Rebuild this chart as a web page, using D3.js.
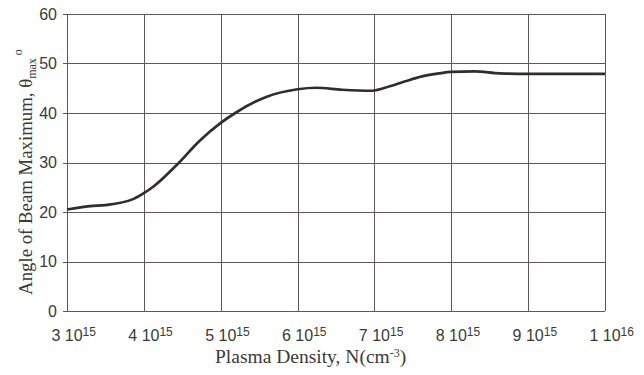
<meta charset="utf-8">
<style>
body { margin: 0; background: #fff; }
.grid line { stroke: #5e5866; stroke-width: 1px; shape-rendering: crispEdges; }
.tick-label { font-family: "Liberation Sans", Arial, sans-serif; font-size: 16px; fill: #3a3a3a; }
.axis-title { font-family: "Liberation Serif", "Times New Roman", serif; fill: #3a3a3a; }
.curve { fill: none; stroke: #2f2d33; stroke-width: 2.7px; stroke-linejoin: round; }
</style>
<body>
<script src="https://d3js.org/d3.v7.min.js"></script>
<script>
// plasma density (cm^-3) and beam max angle (deg)
var density = [3.0e15, 3.3e15, 3.5e15, 3.86e15, 4.0e15, 4.13e15, 4.44e15, 4.72e15,
               5.0e15, 5.2e15, 5.6e15, 6.0e15, 6.24e15, 6.58e15, 6.97e15, 7.2e15, 7.4e15,
               7.62e15, 7.84e15, 8.0e15, 8.3e15, 8.63e15, 9.0e15, 1.0e16];
var angle   = [20.5, 21.2, 21.4, 22.6, 23.8, 25.2, 29.7, 34.3,
               38.0, 40.1, 43.3, 44.8, 45.1, 44.7, 44.5, 45.4, 46.4,
               47.4, 48.0, 48.3, 48.4, 48.0, 47.9, 47.9];

var xTicks = [3e15, 4e15, 5e15, 6e15, 7e15, 8e15, 9e15, 1e16];
var xTickMant = ["3", "4", "5", "6", "7", "8", "9", "1"];
var xTickExp = ["15", "15", "15", "15", "15", "15", "15", "16"];
var yTicks = [0, 10, 20, 30, 40, 50, 60];

var W = 644, H = 375;
var margin = {top: 14, right: 39, bottom: 64, left: 67},
    width = W - margin.left - margin.right,
    height = H - margin.top - margin.bottom;

var svg = d3.select("body").append("svg")
    .attr("width", W)
    .attr("height", H);

var g = svg.append("g")
    .attr("transform", "translate(" + margin.left + "," + margin.top + ")");

var x = d3.scaleLinear().domain([3e15, 1e16]).range([0, width]);
var y = d3.scaleLinear().domain([0, 60]).range([height, 0]);

// grid
var grid = g.append("g").attr("class", "grid");
grid.selectAll(".hl").data(yTicks).enter().append("line")
    .attr("class", "hl")
    .attr("x1", -4).attr("x2", width)
    .attr("y1", function(d) { return Math.round(y(d)) + 0.5; })
    .attr("y2", function(d) { return Math.round(y(d)) + 0.5; });
grid.selectAll(".vl").data(xTicks).enter().append("line")
    .attr("class", "vl")
    .attr("y1", 0).attr("y2", height)
    .attr("x1", function(d) { return Math.round(x(d)) + 0.5; })
    .attr("x2", function(d) { return Math.round(x(d)) + 0.5; });

// y tick labels
g.selectAll(".ylab").data(yTicks).enter().append("text")
    .attr("class", "tick-label")
    .attr("x", -10)
    .attr("y", function(d) { return y(d); })
    .attr("dy", "0.36em")
    .attr("text-anchor", "end")
    .text(function(d) { return d; });

// x tick labels: "3 10^15", mantissa part centred on the tick
xTicks.forEach(function(t, i) {
  var txt = g.append("text")
      .attr("class", "tick-label")
      .attr("y", height + 30);
  var main = txt.append("tspan").text(xTickMant[i] + " 10");
  txt.append("tspan")
      .attr("dy", -5)
      .style("font-size", "12px")
      .text(xTickExp[i]);
  var w = main.node().getComputedTextLength();
  txt.attr("x", x(t) - w / 2);
});

// curve
var line = d3.line()
    .x(function(d, i) { return x(density[i]); })
    .y(function(d) { return y(d); })
    .curve(d3.curveMonotoneX);

g.append("path")
    .datum(angle)
    .attr("class", "curve")
    .attr("d", line);

// axis titles
var xt = svg.append("text")
    .attr("class", "axis-title")
    .attr("x", 215)
    .attr("y", 363)
    .style("font-size", "19.5px");
xt.append("tspan").text("Plasma Density, N(cm");
xt.append("tspan").attr("dy", -6).style("font-size", "12px").text("-3");
xt.append("tspan").attr("dy", 6).text(")");

var yt = svg.append("text")
    .attr("class", "axis-title")
    .attr("transform", "translate(32,172) rotate(-90)")
    .attr("text-anchor", "middle")
    .style("font-size", "18.8px");
yt.append("tspan").text("Angle of Beam Maximum, \u03b8");
yt.append("tspan").attr("dy", 4).style("font-size", "12px").text("max");
yt.append("tspan").attr("dy", -14).style("font-size", "12px").text(" o");
</script>
</body>
